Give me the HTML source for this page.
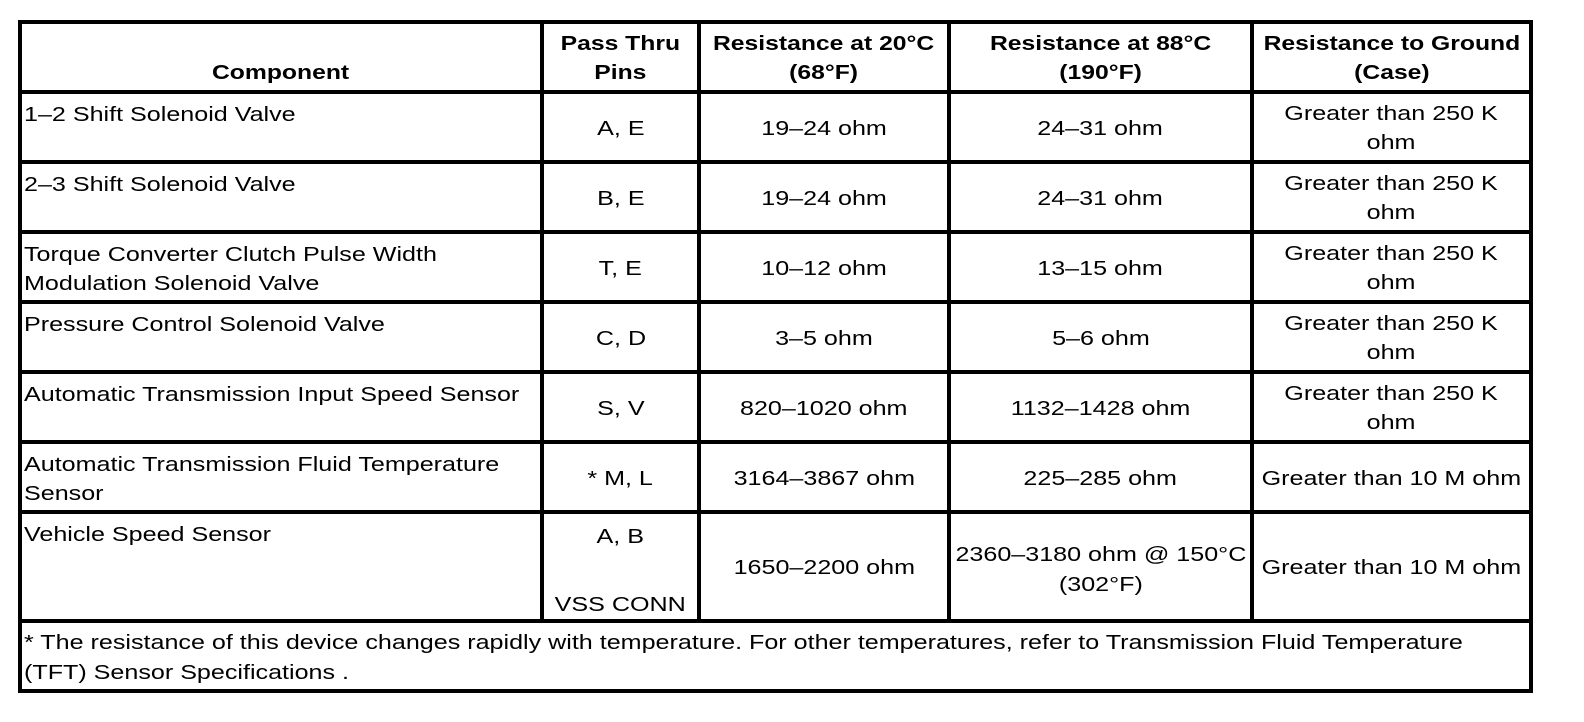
<!DOCTYPE html>
<html>
<head>
<meta charset="utf-8">
<style>
  html, body { margin:0; padding:0; background:#fff; }
  body { width:1584px; height:722px; position:relative; overflow:hidden;
         font-family:"Liberation Sans", Arial, sans-serif; font-size:20px; line-height:29px; color:#000; }
  .ln { position:absolute; background:#000; }
  .c { position:absolute; box-sizing:border-box; display:flex; align-items:center; justify-content:center; }
  .c > span { display:inline-block; white-space:nowrap; text-align:center; transform:scaleX(1.255); transform-origin:50% 50%; position:relative; top:2px; }
  .l { justify-content:flex-start; align-items:flex-start; padding-left:2px; padding-top:7px; }
  .l > span { text-align:left; transform-origin:0 50%; top:0; }
  .h { align-items:flex-end; padding-bottom:2px; font-weight:bold; }
  .h > span { transform:scaleX(1.235); top:0; }
  .f { justify-content:flex-start; padding-left:2px; line-height:30px; }
  .f > span { text-align:left; transform-origin:0 50%; }
</style>
</head>
<body>
<!-- horizontal lines -->
<div class="ln" style="left:18px;top:20px;width:1515px;height:4px"></div>
<div class="ln" style="left:18px;top:90px;width:1515px;height:4px"></div>
<div class="ln" style="left:18px;top:160px;width:1515px;height:4px"></div>
<div class="ln" style="left:18px;top:230px;width:1515px;height:4px"></div>
<div class="ln" style="left:18px;top:300px;width:1515px;height:4px"></div>
<div class="ln" style="left:18px;top:370px;width:1515px;height:4px"></div>
<div class="ln" style="left:18px;top:440px;width:1515px;height:4px"></div>
<div class="ln" style="left:18px;top:510px;width:1515px;height:4px"></div>
<div class="ln" style="left:18px;top:619px;width:1515px;height:4px"></div>
<div class="ln" style="left:18px;top:689px;width:1515px;height:4px"></div>
<!-- vertical lines -->
<div class="ln" style="left:18px;top:20px;width:4px;height:673px"></div>
<div class="ln" style="left:1529px;top:20px;width:4px;height:673px"></div>
<div class="ln" style="left:540px;top:20px;width:4px;height:603px"></div>
<div class="ln" style="left:697px;top:20px;width:4px;height:603px"></div>
<div class="ln" style="left:947px;top:20px;width:4px;height:603px"></div>
<div class="ln" style="left:1250px;top:20px;width:4px;height:603px"></div>

<!-- header -->
<div class="c h" style="left:22px;top:24px;width:518px;height:66px"><span>Component</span></div>
<div class="c h" style="left:544px;top:24px;width:153px;height:66px"><span>Pass Thru<br>Pins</span></div>
<div class="c h" style="left:701px;top:24px;width:246px;height:66px"><span>Resistance at 20°C<br>(68°F)</span></div>
<div class="c h" style="left:951px;top:24px;width:299px;height:66px"><span>Resistance at 88°C<br>(190°F)</span></div>
<div class="c h" style="left:1254px;top:24px;width:275px;height:66px"><span>Resistance to Ground<br>(Case)</span></div>

<!-- row 1 -->
<div class="c l" style="left:22px;top:94px;width:518px;height:66px"><span>1–2 Shift Solenoid Valve</span></div>
<div class="c" style="left:544px;top:94px;width:153px;height:66px"><span>A, E</span></div>
<div class="c" style="left:701px;top:94px;width:246px;height:66px"><span>19–24 ohm</span></div>
<div class="c" style="left:951px;top:94px;width:299px;height:66px"><span>24–31 ohm</span></div>
<div class="c" style="left:1254px;top:94px;width:275px;height:66px"><span>Greater than 250 K<br>ohm</span></div>

<!-- row 2 -->
<div class="c l" style="left:22px;top:164px;width:518px;height:66px"><span>2–3 Shift Solenoid Valve</span></div>
<div class="c" style="left:544px;top:164px;width:153px;height:66px"><span>B, E</span></div>
<div class="c" style="left:701px;top:164px;width:246px;height:66px"><span>19–24 ohm</span></div>
<div class="c" style="left:951px;top:164px;width:299px;height:66px"><span>24–31 ohm</span></div>
<div class="c" style="left:1254px;top:164px;width:275px;height:66px"><span>Greater than 250 K<br>ohm</span></div>

<!-- row 3 -->
<div class="c l" style="left:22px;top:234px;width:518px;height:66px"><span>Torque Converter Clutch Pulse Width<br>Modulation Solenoid Valve</span></div>
<div class="c" style="left:544px;top:234px;width:153px;height:66px"><span>T, E</span></div>
<div class="c" style="left:701px;top:234px;width:246px;height:66px"><span>10–12 ohm</span></div>
<div class="c" style="left:951px;top:234px;width:299px;height:66px"><span>13–15 ohm</span></div>
<div class="c" style="left:1254px;top:234px;width:275px;height:66px"><span>Greater than 250 K<br>ohm</span></div>

<!-- row 4 -->
<div class="c l" style="left:22px;top:304px;width:518px;height:66px"><span>Pressure Control Solenoid Valve</span></div>
<div class="c" style="left:544px;top:304px;width:153px;height:66px"><span>C, D</span></div>
<div class="c" style="left:701px;top:304px;width:246px;height:66px"><span>3–5 ohm</span></div>
<div class="c" style="left:951px;top:304px;width:299px;height:66px"><span>5–6 ohm</span></div>
<div class="c" style="left:1254px;top:304px;width:275px;height:66px"><span>Greater than 250 K<br>ohm</span></div>

<!-- row 5 -->
<div class="c l" style="left:22px;top:374px;width:518px;height:66px"><span>Automatic Transmission Input Speed Sensor</span></div>
<div class="c" style="left:544px;top:374px;width:153px;height:66px"><span>S, V</span></div>
<div class="c" style="left:701px;top:374px;width:246px;height:66px"><span>820–1020 ohm</span></div>
<div class="c" style="left:951px;top:374px;width:299px;height:66px"><span>1132–1428 ohm</span></div>
<div class="c" style="left:1254px;top:374px;width:275px;height:66px"><span>Greater than 250 K<br>ohm</span></div>

<!-- row 6 -->
<div class="c l" style="left:22px;top:444px;width:518px;height:66px"><span>Automatic Transmission Fluid Temperature<br>Sensor</span></div>
<div class="c" style="left:544px;top:444px;width:153px;height:66px"><span>* M, L</span></div>
<div class="c" style="left:701px;top:444px;width:246px;height:66px"><span>3164–3867 ohm</span></div>
<div class="c" style="left:951px;top:444px;width:299px;height:66px"><span>225–285 ohm</span></div>
<div class="c" style="left:1254px;top:444px;width:275px;height:66px"><span>Greater than 10 M ohm</span></div>

<!-- row 7 -->
<div class="c l" style="left:22px;top:514px;width:518px;height:105px"><span>Vehicle Speed Sensor</span></div>
<div class="c" style="left:544px;top:514px;width:153px;height:105px"><span style="line-height:34px;top:4px">A, B<br>&nbsp;<br>VSS CONN</span></div>
<div class="c" style="left:701px;top:514px;width:246px;height:105px"><span>1650–2200 ohm</span></div>
<div class="c" style="left:951px;top:514px;width:299px;height:105px"><span style="line-height:30px;top:3px">2360–3180 ohm @ 150°C<br>(302°F)</span></div>
<div class="c" style="left:1254px;top:514px;width:275px;height:105px"><span>Greater than 10 M ohm</span></div>

<!-- footer -->
<div class="c f" style="left:22px;top:623px;width:1507px;height:66px"><span>* The resistance of this device changes rapidly with temperature. For other temperatures, refer to Transmission Fluid Temperature<br>(TFT) Sensor Specifications .</span></div>
</body>
</html>
